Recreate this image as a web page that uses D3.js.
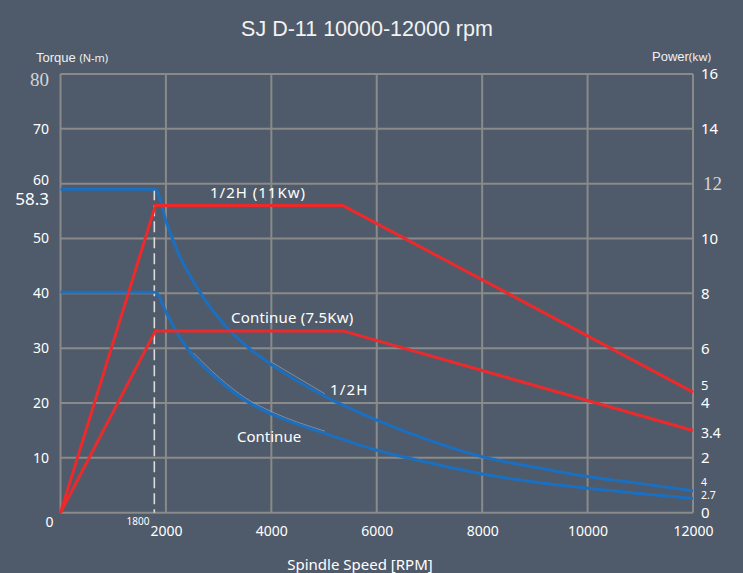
<!DOCTYPE html>
<html lang="en">
<head>
  <meta charset="UTF-8">
  <title>SJ D-11 10000-12000 rpm</title>
  <script src="https://d3js.org/d3.v7.min.js"></script>
  <style>
    body { margin: 0; padding: 0; background: #4f5b6a; }
    svg { display: block; }
    .grid line, .grid path { stroke: #8a8a8a; stroke-width: 2; }
    .lbl { font-family: "Noto Sans", sans-serif; fill: #ffffff; }
  </style>
</head>
<body>
  <div id="chart"></div>
  <script>
    // speeds in rpm
    const speeds = [0, 1800, 2000, 2300, 2500, 3000, 3500, 4000, 5000, 6000, 7000, 8000, 9000, 10000, 11000, 12000];
    // torque, N-m
    const torqueHalf     = [59, 59, 53.2, 46.0, 42.5, 35.5, 30.6, 27.0, 21.3, 16.9, 13.2, 10.2, 8.3, 6.6, 5.3, 4.0];
    const torqueContinue = [40.2, 40.2, 36.6, 31.4, 28.8, 24.2, 20.5, 18.0, 14.5, 11.4, 9.1, 7.06, 5.6, 4.45, 3.5, 2.6];
    // power, kW
    const powerSpeeds   = [0, 1800, 5360, 12000];
    const powerHalf     = [0, 11.2, 11.2, 4.4];
    const powerContinue = [0, 6.63, 6.63, 3.0];
    // ticks
    const xTicks = [2000, 4000, 6000, 8000, 10000, 12000];
    const yTicks = [0, 10, 20, 30, 40, 50, 60, 70, 80];
    const y2Ticks = [0, 2, 4, 6, 8, 10, 12, 14, 16];

    const W = 743, H = 573;
    const pLeft = 60.5, pRight = 693, pTop = 74, pBottom = 512.7;

    const svg = d3.select("#chart").append("svg")
      .attr("width", W).attr("height", H);

    svg.append("rect").attr("width", W).attr("height", H).attr("fill", "#4f5b6a");

    const x = d3.scaleLinear().domain([0, 12000]).range([pLeft, pRight]);
    const y = d3.scaleLinear().domain([0, 80]).range([pBottom, pTop]);
    const y2 = d3.scaleLinear().domain([0, 16]).range([pBottom, pTop]);

    // grid
    svg.append("g").attr("class", "grid")
      .selectAll("line").data([0].concat(xTicks)).enter().append("line")
        .attr("x1", d => x(d)).attr("x2", d => x(d))
        .attr("y1", pTop).attr("y2", pBottom);
    svg.append("g").attr("class", "grid")
      .selectAll("line").data(yTicks).enter().append("line")
        .attr("x1", pLeft).attr("x2", pRight)
        .attr("y1", d => y(d)).attr("y2", d => y(d));

    // axes (labels only)
    const gx = svg.append("g").attr("transform", `translate(0,${pBottom})`)
      .call(d3.axisBottom(x).tickValues(xTicks).tickFormat(d3.format("d")).tickSize(0).tickPadding(13));
    const gy = svg.append("g").attr("transform", `translate(${pLeft},0)`)
      .call(d3.axisLeft(y).tickValues(yTicks).tickSize(0).tickPadding(11.5));
    const gy2 = svg.append("g").attr("transform", `translate(${pRight},0)`)
      .call(d3.axisRight(y2).tickValues(y2Ticks).tickSize(0).tickPadding(8));
    [gx, gy, gy2].forEach(g => {
      g.select(".domain").remove();
      g.selectAll("text")
        .attr("fill", "#ffffff")
        .style("font-family", "'Noto Sans', sans-serif")
        .style("font-size", "14px");
    });
    gy2.selectAll("text").style("font-size", "15px");
    gy.selectAll("text").filter(d => d === 0).attr("x", -7).attr("dy", "1.0em");
    gy.selectAll("text").filter(d => d === 60).attr("dy", "0.05em");
    gy.selectAll("text").filter(d => d === 80)
      .style("font-family", "'Liberation Serif', serif").style("font-size", "19px")
      .attr("fill", "#d4d4d4").attr("dy", "0.6em");
    gy2.selectAll("text").filter(d => d === 12)
      .style("font-family", "'Liberation Serif', serif").style("font-size", "19px")
      .attr("fill", "#d4d4d4").attr("x", 10);

    // dashed marker at 1800 rpm
    svg.append("line")
      .attr("x1", x(1780)).attr("x2", x(1780))
      .attr("y1", y(torqueHalf[1])).attr("y2", pBottom)
      .attr("stroke", "#dcdcdc").attr("stroke-width", 1.6)
      .attr("stroke-dasharray", "11,5");

    const line = (xs, ys, sy) => d3.line()
      .x((d, i) => x(xs[i])).y(d => sy(d))
      .curve(d3.curveMonotoneX)(ys);

    // faint ghost traces beside torque curves
    const ghost = (ys, lo, hi) => {
      const idx = speeds.map((s, i) => i).filter(i => speeds[i] >= lo && speeds[i] <= hi);
      return d3.line().x(i => x(speeds[i])).y(i => y(ys[i])).curve(d3.curveMonotoneX)(idx);
    };
    svg.append("path").attr("d", ghost(torqueHalf, 4000, 5000))
      .attr("fill", "none").attr("stroke", "#7f9cbf").attr("stroke-width", 0.8)
      .attr("transform", "translate(1,-2)");
    svg.append("path").attr("d", ghost(torqueContinue, 2500, 5000))
      .attr("fill", "none").attr("stroke", "#7f9cbf").attr("stroke-width", 0.8)
      .attr("transform", "translate(1,-2)");

    // torque curves
    [torqueHalf, torqueContinue].forEach(ys => {
      svg.append("path").attr("d", line(speeds, ys, y))
        .attr("fill", "none").attr("stroke", "#1b6fc0").attr("stroke-width", 3);
    });
    // power curves
    [powerHalf, powerContinue].forEach(ys => {
      svg.append("path")
        .attr("d", d3.line().x((d, i) => x(powerSpeeds[i])).y(d => y2(d))(ys))
        .attr("fill", "none").attr("stroke", "#ec2a2c").attr("stroke-width", 3);
    });

    // text annotations
    const txt = (t, px, py, size, anchor, spacing) => svg.append("text")
      .attr("class", "lbl").attr("x", px).attr("y", py)
      .attr("dy", "0.35em").attr("text-anchor", anchor || "start")
      .style("letter-spacing", (spacing || 0) + "px")
      .style("font-size", size + "px").text(t);

    txt("58.3", 49, 199.5, 17, "end");
    txt("1/2H (11Kw)", 210, 193, 15, "start", 1);
    txt("Continue (7.5Kw)", 231, 318, 15, "start", 0.2);
    txt("1/2H", 330, 390, 15, "start", 1.2);
    txt("Continue", 237, 437, 15);
    txt("1800", 138, 521, 10, "middle");
    txt("5", 701, 385, 13);
    txt("3.4", 701, 433, 14);
    txt("4", 701, 482, 10.5);
    txt("2.7", 701, 495.5, 10.5);

    // title and axis titles
    svg.append("text").attr("x", 367).attr("y", 28).attr("dy", "0.35em")
      .attr("text-anchor", "middle").attr("fill", "#f2f2f2")
      .style("font-family", "'Liberation Sans', Arial, sans-serif")
      .style("font-size", "21.5px").text("SJ D-11 10000-12000 rpm");

    const tq = svg.append("text").attr("x", 36).attr("y", 57).attr("dy", "0.35em")
      .attr("fill", "#f0f0f0")
      .style("font-family", "'Liberation Sans', Arial, sans-serif").style("font-size", "13px");
    tq.append("tspan").text("Torque ");
    tq.append("tspan").style("font-size", "11px").style("font-family", "'Noto Sans', sans-serif").text("(N-m)");

    const pw = svg.append("text").attr("x", 652).attr("y", 56).attr("dy", "0.35em")
      .attr("fill", "#f0f0f0")
      .style("font-family", "'Liberation Sans', Arial, sans-serif").style("font-size", "13px");
    pw.append("tspan").text("Power");
    pw.append("tspan").style("font-size", "11.5px").style("font-family", "'Noto Sans', sans-serif").text("(kw)");

    txt("Spindle Speed [RPM]", 360, 565, 15, "middle");
  </script>
</body>
</html>
